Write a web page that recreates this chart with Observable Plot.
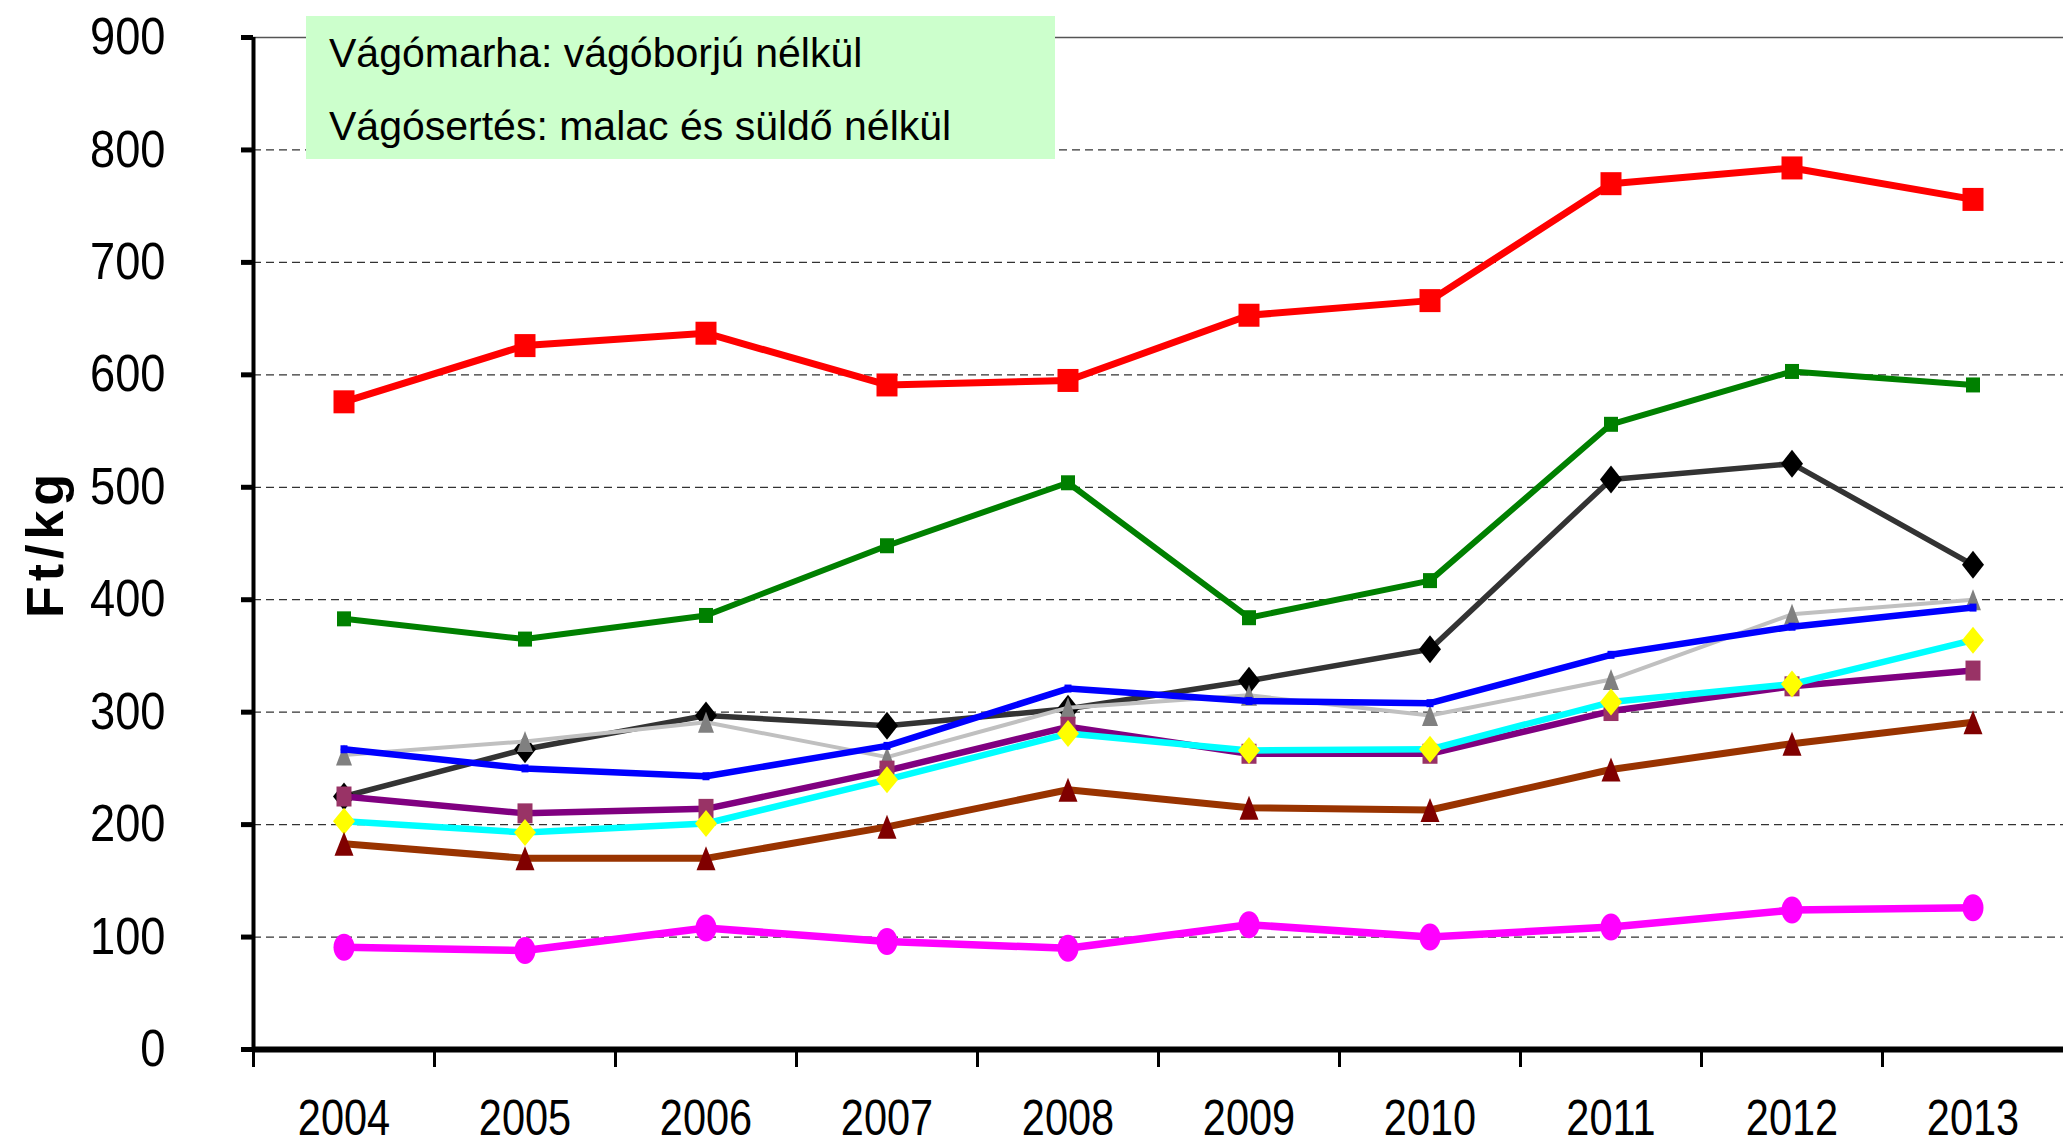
<!DOCTYPE html>
<html><head><meta charset="utf-8">
<script src="https://cdn.jsdelivr.net/npm/d3@7"></script>
<script src="https://cdn.jsdelivr.net/npm/@observablehq/plot@0.6"></script>
<style>body{margin:0;background:#fff} #chart svg{display:block}</style>
</head><body><div id="chart"></div>
<script>
// ---- data ----
const years = [2004, 2005, 2006, 2007, 2008, 2009, 2010, 2011, 2012, 2013];
const yTicks = [0, 100, 200, 300, 400, 500, 600, 700, 800, 900];
const gridTicks = [100, 200, 300, 400, 500, 600, 700, 800];
const yLabel = "Ft/kg";
const noteLines = ["Vágómarha: vágóborjú nélkül", "Vágósertés: malac és süldő nélkül"];

const redValues     = [576, 626, 637, 591, 595, 653, 666, 770, 784, 756];
const greenValues   = [383, 365, 386, 448, 504, 384, 417, 556, 603, 591];
const darkValues    = [225, 267, 297, 288, 303, 328, 356, 507, 521, 431];
const silverValues  = [262, 274, 291, 260, 304, 315, 297, 329, 387, 400];
const blueValues    = [267, 250, 243, 270, 321, 310, 308, 351, 376, 393];
const purpleValues  = [225, 210, 214, 248, 287, 263, 263, 301, 323, 337];
const cyanValues    = [203, 193, 201, 240, 281, 266, 267, 309, 325, 364];
const brownValues   = [183, 170, 170, 198, 231, 215, 213, 249, 272, 291];
const magentaValues = [91, 88, 108, 96, 90, 111, 100, 109, 124, 126];

// ---- marker shapes ----
const rectSym = (w, h) => ({draw(c) { c.moveTo(-w/2, -h/2); c.lineTo(w/2, -h/2); c.lineTo(w/2, h/2); c.lineTo(-w/2, h/2); c.closePath(); }});
const diamondSym = (w, h) => ({draw(c) { c.moveTo(0, -h/2); c.lineTo(w/2, 0); c.lineTo(0, h/2); c.lineTo(-w/2, 0); c.closePath(); }});
const triSym = (w, h) => ({draw(c) { c.moveTo(0, -h/2); c.lineTo(w/2, h/2); c.lineTo(-w/2, h/2); c.closePath(); }});
const ellSym = (w, h) => ({draw(c) {
  const k = 0.5523, a = w/2, b = h/2;
  c.moveTo(a, 0);
  c.bezierCurveTo(a, b*k, a*k, b, 0, b);
  c.bezierCurveTo(-a*k, b, -a, b*k, -a, 0);
  c.bezierCurveTo(-a, -b*k, -a*k, -b, 0, -b);
  c.bezierCurveTo(a*k, -b, a, -b*k, a, 0);
  c.closePath();
}});

const series = [
  {values: redValues,     line: "#FF0000", width: 7,   marker: "#FF0000", sym: rectSym(21, 23)},
  {values: greenValues,   line: "#008000", width: 6,   marker: "#008000", sym: rectSym(14, 15)},
  {values: darkValues,    line: "#333333", width: 5.5, marker: "#000000", sym: diamondSym(22, 28)},
  {values: silverValues,  line: "#C0C0C0", width: 4,   marker: "#808080", sym: triSym(16, 21)},
  {values: blueValues,    line: "#0000FF", width: 6.5, marker: "#0000FF", sym: rectSym(7, 8)},
  {values: purpleValues,  line: "#800080", width: 6.5, marker: "#993366", sym: rectSym(15, 20)},
  {values: cyanValues,    line: "#00FFFF", width: 6.5, marker: "#FFFF00", sym: diamondSym(22, 27)},
  {values: brownValues,   line: "#993300", width: 7,   marker: "#800000", sym: triSym(19, 24)},
  {values: magentaValues, line: "#FF00FF", width: 7.5, marker: "#FF00FF", sym: ellSym(21, 27)}
];

const sans = "'Liberation Sans', Arial, sans-serif";
const boundaries = years.map(y => y - 0.5);

const seriesMarks = series.flatMap(s => {
  const rows = years.map((y, i) => ({year: y, value: s.values[i]}));
  return [
    Plot.line(rows, {x: "year", y: "value", stroke: s.line, strokeWidth: s.width}),
    Plot.dot(rows, {x: "year", y: "value", symbol: s.sym, r: 5, fill: s.marker, stroke: "none"})
  ];
});

const noteBox = (index, scales, values, dims) => {
  const g = d3.create("svg:g");
  g.append("rect").attr("x", 306).attr("y", 16).attr("width", 749).attr("height", 143).attr("fill", "#CCFFCC");
  noteLines.forEach((t, i) => {
    g.append("text").attr("x", 329).attr("y", 67 + i * 72.5).attr("text-anchor", "start")
      .attr("font-size", 41).attr("font-family", sans).attr("fill", "#000").text(t);
  });
  return g.node();
};

const chart = Plot.plot({
  width: 2063,
  height: 1144,
  marginLeft: 253,
  marginRight: 0,
  marginTop: 37,
  marginBottom: 95,
  style: {fontFamily: sans, background: "#fff", overflow: "visible"},
  x: {type: "linear", domain: [2003.5, 2013.5]},
  y: {domain: [0, 900]},
  marks: [
    Plot.ruleY(gridTicks, {stroke: "#333", strokeWidth: 1.3, strokeDasharray: "8,5"}),
    Plot.ruleY([900], {stroke: "#555", strokeWidth: 1.5}),
    Plot.axisY({ticks: yTicks, tickSize: 12, tickPadding: 76, strokeWidth: 5, fontSize: 52, label: null, tickFormat: d => String(d)}),
    Plot.axisX({ticks: boundaries, tickSize: 18, strokeWidth: 3, tickFormat: () => "", label: null}),
    Plot.axisX({ticks: years, tickSize: 0, tickPadding: 50, fontSize: 50, label: null, tickFormat: d => String(d)}),
    Plot.text([yLabel], {frameAnchor: "left", dx: -207, rotate: -90, textAnchor: "middle", text: d => d, fontSize: 52, fontWeight: "bold", fill: "#000"}),
    ...seriesMarks,
    Plot.ruleX([2003.5], {stroke: "#000", strokeWidth: 4}),
    Plot.ruleY([0], {stroke: "#000", strokeWidth: 6}),
    noteBox
  ]
});
document.getElementById("chart").append(chart);

// condense axis tick labels (reference uses a narrow face)
const yearSet = new Set(years.map(String));
const ySet = new Set(yTicks.map(String));
d3.select(chart).selectAll("text").each(function() {
  const t = this.textContent;
  let f = null;
  if (yearSet.has(t)) f = 0.83;
  else if (ySet.has(t)) f = 0.87;
  else if (t === yLabel) { this.style.letterSpacing = "5px"; }
  if (f) {
    const w = this.getComputedTextLength();
    this.setAttribute("textLength", (w * f).toFixed(1));
    this.setAttribute("lengthAdjust", "spacingAndGlyphs");
  }
});
</script>
</body></html>
